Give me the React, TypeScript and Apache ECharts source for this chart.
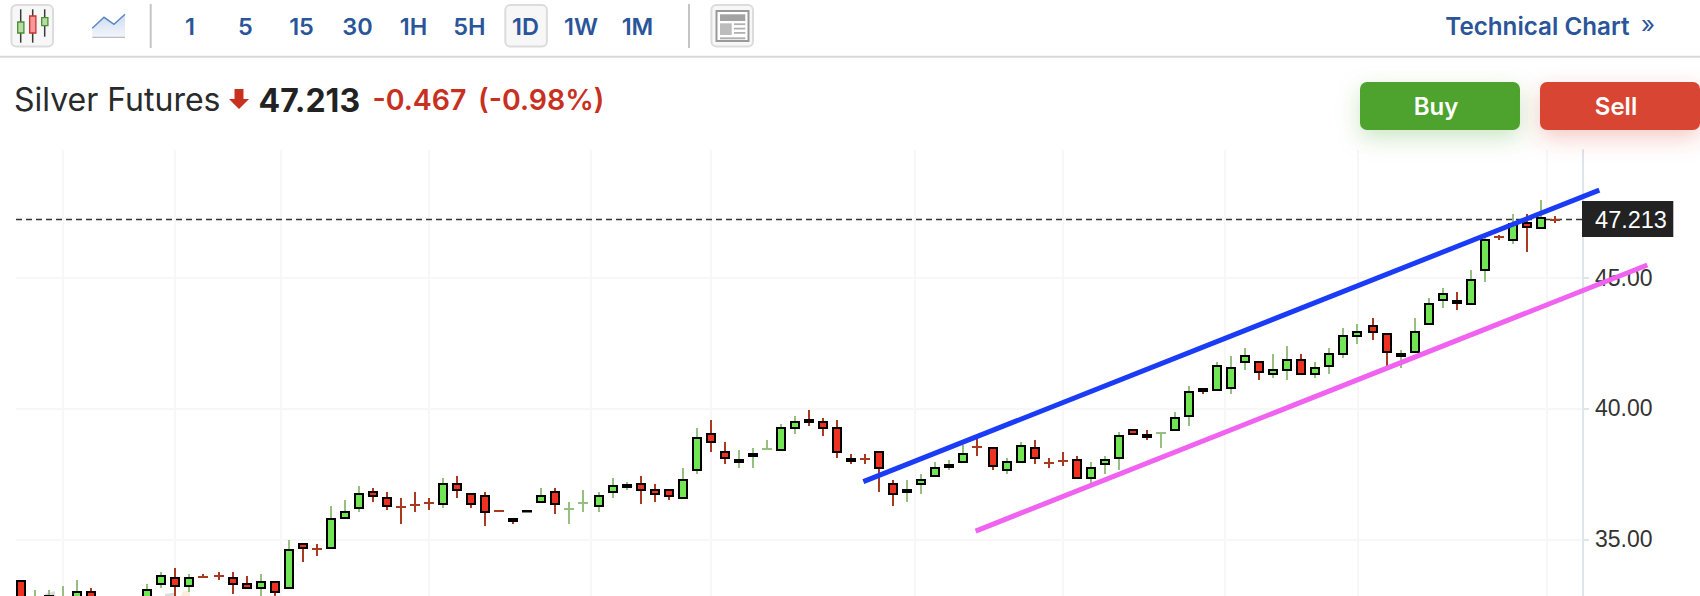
import React, { useEffect, useRef } from "react";
import * as echarts from "echarts";

const opens = [
  33.44,32.60,32.70,32.50,32.60,33.02,32.30,32.50,32.30,32.60,
  33.25,33.58,33.17,33.58,33.61,33.58,33.35,33.10,33.43,33.10,
  34.88,34.63,34.62,35.77,36.15,36.86,36.63,36.25,36.33,36.41,
  36.30,37.17,36.79,36.71,36.10,35.82,36.11,36.38,36.86,36.18,
  36.41,36.23,36.76,36.98,37.17,36.94,36.94,36.53,37.60,39.08,
  38.39,37.91,38.14,38.47,38.37,39.20,39.61,39.54,39.31,38.10,
  38.09,38.39,37.17,36.76,37.07,37.37,37.73,37.91,38.54,38.54,
  37.60,37.91,38.54,37.92,38.00,38.09,37.30,37.83,38.06,39.23,
  39.03,39.08,39.13,39.66,40.77,40.66,40.73,41.72,41.83,41.27,
  41.44,41.90,41.27,41.57,42.03,42.72,43.20,42.89,41.95,42.11,
  43.17,44.09,44.13,43.94,45.24,46.56,46.38,47.11,46.84,47.213,
];
const closes = [
  32.70,32.78,32.89,32.80,33.02,32.60,32.60,32.30,32.60,33.12,
  33.66,33.17,33.58,33.58,33.61,33.25,33.10,33.43,32.94,34.65,
  34.62,34.63,35.80,36.10,36.79,36.61,36.23,36.25,36.33,36.41,
  37.17,36.84,36.30,36.00,36.10,35.67,36.06,36.71,36.30,36.18,
  36.41,36.71,37.09,37.10,36.84,36.69,36.61,37.32,38.93,38.67,
  38.06,38.09,38.31,38.47,39.31,39.54,39.43,39.20,38.29,37.97,
  38.09,37.68,36.69,36.94,37.32,37.78,37.88,38.31,38.54,37.75,
  38.01,38.62,38.06,37.92,38.00,37.30,37.78,38.09,39.00,38.98,
  38.87,39.08,39.69,40.68,40.64,41.67,41.60,42.05,41.34,41.52,
  41.90,41.29,41.60,42.13,42.82,42.97,42.87,42.11,42.13,42.97,
  44.04,44.42,44.00,44.96,46.48,46.56,47.07,46.91,47.32,47.213,
];
const lows = [
  32.60,32.50,32.60,32.40,32.50,32.50,32.20,32.20,32.20,32.50,
  33.16,32.80,32.99,33.53,33.45,32.92,33.10,32.84,32.84,33.10,
  34.14,34.37,34.62,35.77,36.05,36.43,36.13,35.59,36.05,36.13,
  36.20,36.58,36.20,35.52,36.10,35.59,36.06,36.38,35.97,35.59,
  36.05,36.05,36.58,36.89,36.35,36.43,36.51,36.53,37.50,38.34,
  37.88,37.73,37.73,38.47,38.37,39.03,39.33,38.95,38.11,37.88,
  37.88,36.81,36.28,36.43,36.74,37.37,37.65,37.91,38.19,37.65,
  37.50,37.91,37.88,37.73,37.81,37.30,37.14,37.50,37.65,38.98,
  38.80,38.49,39.13,39.33,40.55,40.66,40.55,41.47,41.09,41.16,
  41.09,41.29,41.16,41.32,41.93,42.46,42.61,41.60,41.55,42.11,
  43.17,43.84,43.76,43.94,44.83,46.45,46.28,45.97,46.84,47.07,
];
const highs = [
  33.44,33.07,33.07,33.22,33.46,33.15,32.70,32.60,32.75,33.30,
  33.76,33.90,33.68,33.68,33.76,33.76,33.61,33.68,33.43,34.98,
  34.88,34.82,36.28,36.51,37.04,36.97,36.81,36.58,36.81,36.58,
  37.35,37.42,36.79,36.81,36.10,35.82,36.11,36.97,36.97,36.43,
  36.89,36.81,37.35,37.19,37.42,37.12,36.94,37.73,39.26,39.56,
  38.72,38.42,38.49,38.80,39.41,39.71,39.94,39.64,39.56,38.26,
  38.26,38.39,37.27,37.27,37.50,37.96,38.03,38.62,38.82,38.54,
  38.11,38.72,38.80,38.11,38.34,38.19,37.96,38.19,39.10,39.23,
  39.18,39.08,39.87,40.86,40.77,41.77,42.00,42.31,41.83,42.08,
  42.39,42.08,41.77,42.31,43.07,43.23,43.45,42.89,42.23,43.45,
  44.22,44.60,44.45,45.29,46.55,46.62,47.42,47.42,47.96,47.35,
];
// unchanged sessions drawn in the rising colour (0-based)
const flatUp = [39, 40, 53, 81];
// sessions after which the time axis leaves a small gap (0-based)
const sessionGaps = [13, 40, 68, 95];
const GAP_SIZE = 1 / 7;

const monthGrid = [3.0, 11.0, 18.6, 29.12, 40.74, 49.31, 63.88, 74.45, 86.02, 95.5, 109.02];
const priceTicks = [35, 40, 45];
const lastPrice = 47.213;
const channelUpper = [60.19, 37.21, 112.76, 48.34];
const channelLower = [68.21, 35.32, 116.19, 45.48];
const X_MIN = -0.3336;
const X_MAX = 111.595;

const intervals = ["1", "5", "15", "30", "1H", "5H", "1D", "1W", "1M"];
const intervalX = [190, 245.5, 301.5, 357.5, 413.5, 469.5, 525.5, 581, 637.5];

const LINK = "#2a5599";
const RED = "#c8301f";
const UI_FONT = "Inter, Roboto, sans-serif";
const AXIS_FONT = "'Liberation Sans', Arial, sans-serif";

const xPositions = opens.map((_, i) => i + sessionGaps.filter((g) => g < i).length * GAP_SIZE);

function renderCandle(params: any, api: any) {
  const i = params.dataIndex;
  const o = api.value(1);
  const c = api.value(2);
  const up = c > o || (c === o && flatUp.includes(i));
  const px = Math.round(api.coord([api.value(0), o])[0]);
  const yO = api.coord([0, o])[1];
  const yC = api.coord([0, c])[1];
  const yL = api.coord([0, api.value(3)])[1];
  const yH = api.coord([0, api.value(4)])[1];
  const wick = up ? "#95c07f" : "#a83a20";
  const children: any[] = [];
  if (yL - yH > 0.5) {
    children.push({
      type: "rect",
      shape: { x: px - 1, y: Math.round(yH), width: 2, height: Math.round(yL) - Math.round(yH) },
      style: { fill: wick },
    });
  }
  if (o === c) {
    children.push({
      type: "rect",
      shape: { x: px - 5, y: Math.round(yO) - 1, width: 10, height: 2 },
      style: { fill: wick },
    });
  } else {
    const top = Math.round(Math.min(yO, yC));
    const bottom = Math.round(Math.max(yO, yC));
    children.push({
      type: "rect",
      shape: { x: px - 4, y: top + 1, width: 8, height: Math.max(bottom - top - 2, 0.5) },
      style: { fill: up ? "#70e655" : "#ee3120", stroke: "#000", lineWidth: 2 },
    });
  }
  return { type: "group", children };
}

function renderTrend(params: any, api: any) {
  const a = api.coord([api.value(0), api.value(1)]);
  const b = api.coord([api.value(2), api.value(3)]);
  return {
    type: "line",
    shape: { x1: a[0], y1: a[1], x2: b[0], y2: b[1] },
    style: { stroke: api.visual("color"), lineWidth: 5 },
  };
}

const txt = (text: string, x: number, y: number, size: number, fill: string, weight: any = 400, align = "center", family = UI_FONT) => ({
  type: "text",
  x,
  y,
  z: 20,
  silent: true,
  style: { text, fill, font: `${weight} ${size}px ${family}`, textAlign: align, textVerticalAlign: "middle" },
});
const box = (x: number, y: number, w: number, h: number, fill: string, extra: any = {}, r = 0) => ({
  type: "rect",
  z: 20,
  silent: true,
  shape: { x, y, width: w, height: h, r },
  style: { fill, ...extra },
});
const seg = (x1: number, y1: number, x2: number, y2: number, stroke: string, lineWidth: number) => ({
  type: "line",
  z: 20,
  silent: true,
  shape: { x1, y1, x2, y2 },
  style: { stroke, lineWidth },
});
const poly = (points: number[][], fill: any, z = 20) => ({
  type: "polygon",
  z,
  silent: true,
  shape: { points },
  style: { fill },
});
const toolBtn = (x: number) => box(x, 5, 41.6, 41.6, "#f7f7f7", { stroke: "#dcdcdc", lineWidth: 2 }, 5);

function buildGraphics() {
  return [
    // toolbar
    seg(0, 56.7, 1700, 56.7, "#d9d9d9", 2),
    toolBtn(11.4),
    seg(20.7, 9.3, 20.7, 42.7, "#3a3a3a", 1.5),
    seg(32.7, 9.3, 32.7, 42.7, "#3a3a3a", 1.5),
    seg(44.7, 9.3, 44.7, 36.7, "#3a3a3a", 1.5),
    box(17.7, 22, 6.2, 11, "#b7dca3", { stroke: "#4a8f30", lineWidth: 1.3 }),
    box(29.7, 16, 6.2, 17, "#f49a9a", { stroke: "#c8302c", lineWidth: 1.3 }),
    box(41.7, 17.7, 6.2, 8, "#b7dca3", { stroke: "#4a8f30", lineWidth: 1.3 }),
    {
      type: "polygon",
      z: 20,
      silent: true,
      shape: { points: [[92.3, 28.3], [104, 17.3], [114, 24.3], [125, 14.3], [125, 37.7], [92.3, 37.7]] },
      style: {
        fill: new echarts.graphic.LinearGradient(0, 0, 0, 1, [
          { offset: 0, color: "#cfdbf1" },
          { offset: 1, color: "#f3f6fb" },
        ]),
      },
    },
    {
      type: "polyline",
      z: 20,
      silent: true,
      shape: { points: [[92.3, 28.3], [104, 17.3], [114, 24.3], [125, 14.3]] },
      style: { stroke: "#5b87c5", lineWidth: 1.5, fill: "none" },
    },
    seg(92.3, 37.4, 125, 37.4, "#b9bcc2", 1.2),
    seg(150.7, 4, 150.7, 48, "#c4c4c4", 2),
    toolBtn(505.3),
    ...intervals.map((t, i) => txt(t, intervalX[i], 26, 23.5, LINK, 600)),
    seg(689, 4, 689, 48, "#c4c4c4", 2),
    toolBtn(711.4),
    box(716.5, 11, 32, 30, "#fff", { stroke: "#999", lineWidth: 2 }),
    box(720, 14.3, 25.3, 6.7, "#a3a3a3"),
    box(720, 23.3, 11.7, 11.7, "#bcbcbc"),
    box(734, 23.3, 11.3, 1.8, "#b0b0b0"),
    box(734, 27.7, 11.3, 1.8, "#b0b0b0"),
    box(734, 32, 11.3, 1.8, "#b0b0b0"),
    box(720, 37.3, 25.3, 2, "#b0b0b0"),
    txt("Technical Chart", 1629.5, 26, 24.2, LINK, 600, "right"),
    txt("»", 1648, 24, 24, LINK, 400),
    // quote line
    txt("Silver Futures", 14, 99, 32, "#2a2a2a", 400, "left"),
    poly([[234.5, 89], [243.5, 89], [243.5, 99], [249, 99], [239, 109], [229, 99], [234.5, 99]], RED),
    txt("47.213", 258.5, 100, 32, "#222", 700, "left"),
    txt("-0.467", 372.5, 99, 28.5, RED, 600, "left"),
    txt("(-0.98%)", 478, 99, 28.5, RED, 600, "left"),
    // order buttons
    box(1360, 82, 160, 48, "#4ea32f", { shadowBlur: 22, shadowOffsetY: 8, shadowColor: "rgba(78,163,47,0.28)" }, 7),
    txt("Buy", 1436, 106, 24, "#fff", 600),
    box(1540, 82, 160, 48, "#d84532", { shadowBlur: 22, shadowOffsetY: 8, shadowColor: "rgba(216,69,50,0.28)" }, 7),
    txt("Sell", 1616, 106, 24, "#fff", 600),
    // last price tag
    box(1582, 201, 91.3, 36, "#222222"),
    txt("47.213", 1631, 219.5, 23.5, "#fff", 400, "center", AXIS_FONT),
    // watermark fragments at the bottom edge
    poly([[45, 596], [45, 594], [55, 591], [55, 596]], "#dcdcdc", 1),
    poly([[165, 596], [165, 594], [175, 592.5], [175, 596]], "#dcdcdc", 1),
    poly([[181, 596], [183, 591], [190, 591], [190, 596]], "#fbeedd", 1),
  ];
}

export default function App() {
  const ref = useRef<HTMLDivElement>(null);
  useEffect(() => {
    const chart = echarts.init(ref.current!, undefined, { renderer: "svg" });
    const candleRows = opens.map((o, i) => [xPositions[i], o, closes[i], lows[i], highs[i]]);
    chart.setOption({
      animation: false,
      backgroundColor: "#fff",
      grid: { left: 16, top: 150, width: 1567, height: 446, containLabel: false },
      xAxis: {
        type: "value",
        min: X_MIN,
        max: X_MAX,
        axisLine: { show: false, onZero: false },
        axisTick: { show: false, customValues: monthGrid },
        axisLabel: { show: false, customValues: monthGrid },
        splitLine: { show: true, lineStyle: { color: "#f7f7f8", width: 2 } },
      },
      yAxis: {
        type: "value",
        position: "right",
        min: 32.84,
        max: 49.87,
        axisLine: { show: true, onZero: false, lineStyle: { color: "#e0e4ec", width: 2 } },
        axisTick: { show: true, length: 6, customValues: priceTicks, lineStyle: { color: "#e0e4ec", width: 2 } },
        axisLabel: {
          show: true,
          customValues: priceTicks,
          formatter: (v: number) => v.toFixed(2),
          margin: 12,
          fontSize: 23,
          color: "#333",
          fontFamily: AXIS_FONT,
          padding: [6, 0, 0, 0],
        },
        splitLine: { show: true, lineStyle: { color: "#f7f7f8", width: 2 } },
      },
      series: [
        {
          type: "line",
          z: 2,
          symbol: "none",
          silent: true,
          data: [[X_MIN, lastPrice], [X_MAX, lastPrice]],
          lineStyle: { color: "#333", width: 1.5, type: [6, 4] },
        },
        {
          type: "custom",
          z: 3,
          silent: true,
          renderItem: renderCandle,
          encode: { x: 0, y: [1, 2, 3, 4] },
          data: candleRows,
        },
        {
          type: "custom",
          z: 5,
          silent: true,
          clip: false,
          renderItem: renderTrend,
          itemStyle: { color: "#1a3cf6" },
          encode: { x: [0, 2], y: [1, 3] },
          data: [channelUpper],
        },
        {
          type: "custom",
          z: 5,
          silent: true,
          clip: false,
          renderItem: renderTrend,
          itemStyle: { color: "#f062f0" },
          encode: { x: [0, 2], y: [1, 3] },
          data: [channelLower],
        },
      ],
      graphic: { elements: buildGraphics() },
    });
    return () => chart.dispose();
  }, []);
  return (
    <div style={{ position: "absolute", left: 0, top: 0, width: 1700, height: 596, overflow: "hidden", background: "#fff" }}>
      <div ref={ref} style={{ width: 1700, height: 596 }} />
    </div>
  );
}
